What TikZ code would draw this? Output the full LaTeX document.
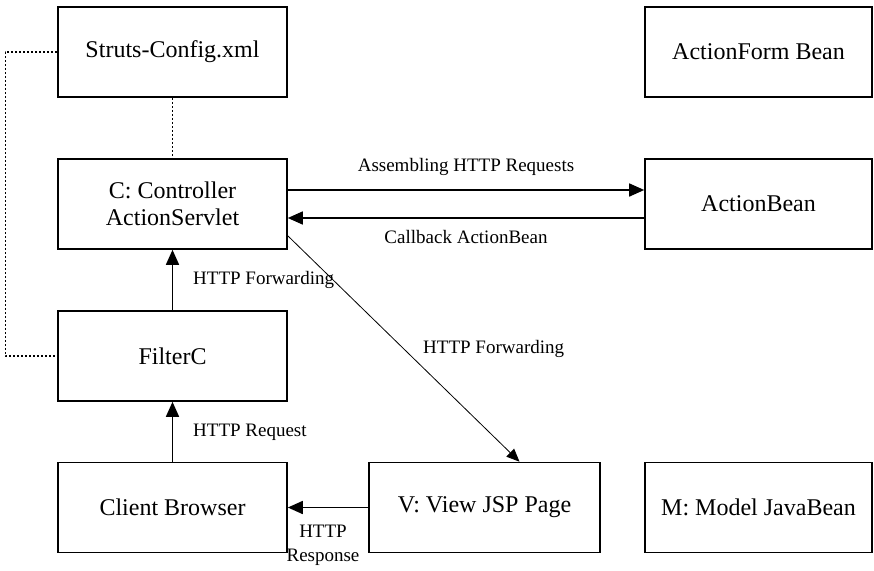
\documentclass[tikz,border=0pt]{standalone}
\usepackage{fontspec}
\setmainfont{Liberation Serif}
\usetikzlibrary{arrows.meta}
\begin{document}
\begin{tikzpicture}[x=1pt,y=-1pt,
  box/.style={draw, line width=1.6pt, minimum width=229pt, minimum height=90pt, inner sep=0pt, align=center, font=\fontsize{24}{27}\selectfont},
  arr/.style={line width=1.6pt, -{Triangle[length=15pt,width=13pt]}},
  thinarr/.style={line width=0.8pt, -{Triangle[length=13pt,width=11pt]}},
  lbl/.style={font=\fontsize{19}{22}\selectfont, inner sep=0pt},
  dots/.style={line width=1.3pt, dash pattern=on 2pt off 2pt}]
\useasboundingbox (0,0) rectangle (874,570);
\node[box] (struts) at (172.5,52) {Struts-Config.xml};
\node[box] (ctrl) at (172.5,204) {C: Controller\\ActionServlet};
\node[box] (filter) at (172.5,356) {FilterC};
\node[box] (client) at (172.5,507.5) {Client Browser};
\node[box, minimum width=231pt] (view) at (484.5,507.5) {V: View JSP Page};
\node[box, minimum width=227pt] (form) at (758.5,52) {ActionForm Bean};
\node[box, minimum width=227pt] (abean) at (758.5,204) {ActionBean};
\node[box, minimum width=227pt] (model) at (758.5,507.5) {M: Model JavaBean};

\draw[arr] ([yshift=14pt]ctrl.east) -- ([yshift=14pt]abean.west)
  node[lbl, midway, yshift=23pt] {Assembling HTTP Requests};
\draw[arr] ([yshift=-14pt]abean.west) -- ([yshift=-14pt]ctrl.east)
  node[lbl, midway, yshift=-19pt] {Callback ActionBean};
\draw[arr] (filter.north) -- (ctrl.south);
\node[lbl, anchor=west] (lf1) at (193,280) {HTTP Forwarding};
\draw[arr] (client.north) -- (filter.south);
\node[lbl, anchor=west] (lr) at (193,432) {HTTP Request};
\draw[arr] (view.west) -- (client.east);
\node[lbl, align=center, font=\fontsize{19}{24}\selectfont] (lresp) at (323,545) {HTTP\\Response};
\draw[thinarr] ([yshift=14pt]ctrl.south east) -- ([xshift=35pt]view.north)
  node[lbl, midway, xshift=90pt] {HTTP Forwarding};
\draw[dots] (struts.west) -- ++(-52,0) |- (filter.west);
\draw[dots] (struts.south) -- (ctrl.north);
\end{tikzpicture}
\end{document}
